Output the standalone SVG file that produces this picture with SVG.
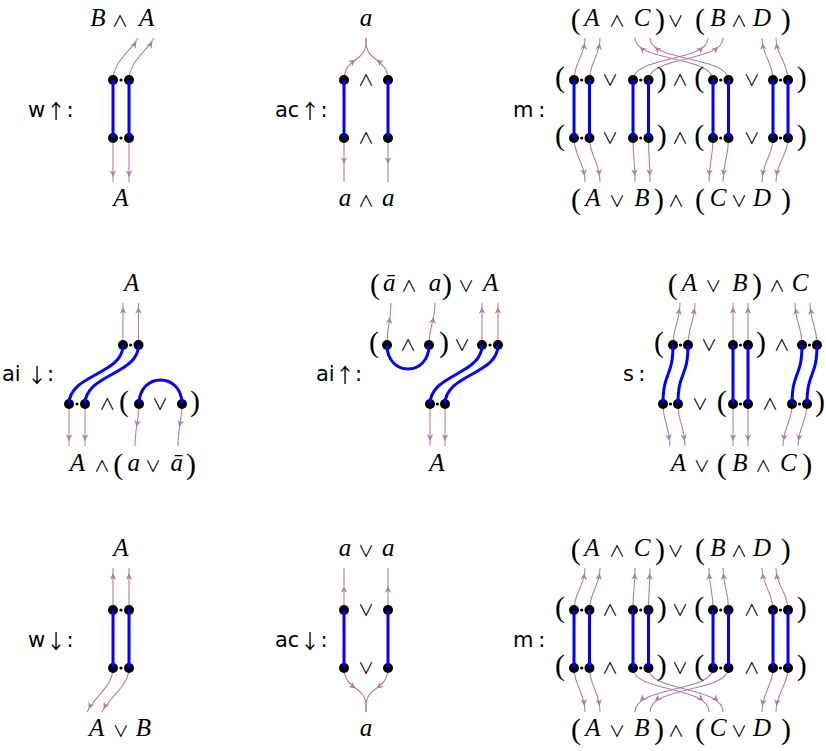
<svg xmlns="http://www.w3.org/2000/svg" xmlns:xlink="http://www.w3.org/1999/xlink" width="826" height="751" viewBox="0 0 826 751">
<style>
.m{font-family:"Liberation Serif","DejaVu Serif",serif;font-style:italic;font-size:25px;text-anchor:middle;fill:#000}
.o{font-family:"Noto Sans CJK JP","DejaVu Sans",sans-serif;font-size:16px;text-anchor:middle;fill:#000}
.p{font-family:"Liberation Serif","DejaVu Serif",serif;font-size:30px;text-anchor:middle;fill:#000}
.s{font-family:"DejaVu Sans",sans-serif;font-size:21px;fill:#000}
.c{font-family:"DejaVu Sans",sans-serif;font-size:21px;text-anchor:middle;fill:#000}
.ar{font-family:"Noto Sans CJK JP","DejaVu Sans",sans-serif;font-size:20px;text-anchor:middle;fill:#000}
.w{fill:none;stroke:#b27ea6;stroke-width:1.1}
.b{fill:none;stroke:#0000ff;stroke-width:3}
.d circle{fill:#000}
</style>
<defs>
<path id="ah" d="M0,0 L-6.8,-3.3 L-4.8,0 L-6.8,3.3 Z" fill="#b27ea6"/>
</defs>

<g id="wires">
<path class="w" d="M113,80 C113,62 130,52 138,38"/>
<path class="w" d="M129,80 C129,62 146,52 154,38"/>
<path class="w" d="M113,138 V182"/>
<path class="w" d="M129,138 V182"/>
<use href="#ah" transform="translate(136.5,41.5) rotate(-58)"/>
<use href="#ah" transform="translate(152.5,41.5) rotate(-58)"/>
<use href="#ah" transform="translate(113,177) rotate(90)"/>
<use href="#ah" transform="translate(129,177) rotate(90)"/>
<path class="w" d="M344,80 C344,58 366,62 366,42 L366,38"/>
<path class="w" d="M388,80 C388,58 366,62 366,42 L366,38"/>
<path class="w" d="M344,138 V182"/>
<path class="w" d="M388,138 V182"/>
<use href="#ah" transform="translate(355.5,59.5) rotate(-38)"/>
<use href="#ah" transform="translate(376.5,59.5) rotate(-142)"/>
<use href="#ah" transform="translate(344,164) rotate(90)"/>
<use href="#ah" transform="translate(388,164) rotate(90)"/>
<path class="w" d="M574,80 C574,62 585,56 585,38"/>
<path class="w" d="M589.5,80 C589.5,62 600,56 600,38"/>
<path class="w" d="M633,80 C633,56 708,62 708,38"/>
<path class="w" d="M648.5,80 C648.5,56 723,62 723,38"/>
<path class="w" d="M713,80 C713,56 635,62 635,38"/>
<path class="w" d="M728.5,80 C728.5,56 650,62 650,38"/>
<path class="w" d="M773,80 C773,62 762,56 762,38"/>
<path class="w" d="M788,80 C788,62 776,56 776,38"/>
<use href="#ah" transform="translate(584.6,43) rotate(-82)"/>
<use href="#ah" transform="translate(599.6,43) rotate(-82)"/>
<use href="#ah" transform="translate(703.4,47) rotate(-40)"/>
<use href="#ah" transform="translate(718.4,47) rotate(-40)"/>
<use href="#ah" transform="translate(639.7,47) rotate(-140)"/>
<use href="#ah" transform="translate(654.8,47) rotate(-140)"/>
<use href="#ah" transform="translate(762.4,43) rotate(-98)"/>
<use href="#ah" transform="translate(776.4,43) rotate(-98)"/>
<path class="w" d="M574,138 C574,156 585,162 585,182"/>
<path class="w" d="M589.5,138 C589.5,156 600,162 600,182"/>
<path class="w" d="M633,138 C633,160 635,160 635,182"/>
<path class="w" d="M648.5,138 C648.5,160 650,160 650,182"/>
<path class="w" d="M713,138 C713,160 709,160 709,182"/>
<path class="w" d="M728.5,138 C728.5,160 723,160 723,182"/>
<path class="w" d="M773,138 C773,156 762,162 762,182"/>
<path class="w" d="M788,138 C788,156 776,162 776,182"/>
<use href="#ah" transform="translate(584.6,176) rotate(82)"/>
<use href="#ah" transform="translate(599.6,176) rotate(82)"/>
<use href="#ah" transform="translate(634.8,176) rotate(88)"/>
<use href="#ah" transform="translate(649.8,176) rotate(88)"/>
<use href="#ah" transform="translate(709.2,176) rotate(93)"/>
<use href="#ah" transform="translate(723.5,176) rotate(95)"/>
<use href="#ah" transform="translate(762.4,176) rotate(98)"/>
<use href="#ah" transform="translate(776.4,176) rotate(98)"/>
<path class="w" d="M123,345 V303"/>
<path class="w" d="M138.5,345 V303"/>
<path class="w" d="M69,404 V446"/>
<path class="w" d="M85,404 V446"/>
<path class="w" d="M139,404 C139,420 135,428 135,446"/>
<path class="w" d="M182,404 C182,420 178,428 178,446"/>
<use href="#ah" transform="translate(123,307) rotate(-90)"/>
<use href="#ah" transform="translate(138.5,307) rotate(-90)"/>
<use href="#ah" transform="translate(69,441) rotate(90)"/>
<use href="#ah" transform="translate(85,441) rotate(90)"/>
<use href="#ah" transform="translate(136.5,427) rotate(100)"/>
<use href="#ah" transform="translate(179.5,427) rotate(100)"/>
<path class="w" d="M387,345 C387,325 391,322 391,303"/>
<path class="w" d="M429,345 C429,325 435,322 435,303"/>
<path class="w" d="M482,345 V303"/>
<path class="w" d="M498,345 V303"/>
<path class="w" d="M430,404 V446"/>
<path class="w" d="M445,404 V446"/>
<use href="#ah" transform="translate(390.1,317) rotate(-80)"/>
<use href="#ah" transform="translate(433.7,317) rotate(-78)"/>
<use href="#ah" transform="translate(482,307) rotate(-90)"/>
<use href="#ah" transform="translate(498,307) rotate(-90)"/>
<use href="#ah" transform="translate(430,441) rotate(90)"/>
<use href="#ah" transform="translate(445,441) rotate(90)"/>
<path class="w" d="M673,345 C673,327 680,321 680,303"/>
<path class="w" d="M688,345 C688,327 695,321 695,303"/>
<path class="w" d="M733,345 V303"/>
<path class="w" d="M748,345 V303"/>
<path class="w" d="M802,345 C802,327 795,321 795,303"/>
<path class="w" d="M817,345 C817,327 810,321 810,303"/>
<use href="#ah" transform="translate(679.5,308) rotate(-82)"/>
<use href="#ah" transform="translate(694.5,308) rotate(-82)"/>
<use href="#ah" transform="translate(733,307) rotate(-90)"/>
<use href="#ah" transform="translate(748,307) rotate(-90)"/>
<use href="#ah" transform="translate(795.5,308) rotate(-98)"/>
<use href="#ah" transform="translate(810.5,308) rotate(-98)"/>
<path class="w" d="M663,404 C663,422 670,428 670,446"/>
<path class="w" d="M678,404 C678,422 685,428 685,446"/>
<path class="w" d="M733,404 V446"/>
<path class="w" d="M748,404 V446"/>
<path class="w" d="M792,404 C792,422 783,428 783,446"/>
<path class="w" d="M807,404 C807,422 798,428 798,446"/>
<use href="#ah" transform="translate(669.5,441) rotate(82)"/>
<use href="#ah" transform="translate(684.5,441) rotate(82)"/>
<use href="#ah" transform="translate(733,441) rotate(90)"/>
<use href="#ah" transform="translate(748,441) rotate(90)"/>
<use href="#ah" transform="translate(783.5,441) rotate(98)"/>
<use href="#ah" transform="translate(798.5,441) rotate(98)"/>
<path class="w" d="M113,610 V568"/>
<path class="w" d="M129,610 V568"/>
<path class="w" d="M113,668 C113,686 95,696 87,712"/>
<path class="w" d="M129,668 C129,686 110,696 102,712"/>
<use href="#ah" transform="translate(113,573) rotate(-90)"/>
<use href="#ah" transform="translate(129,573) rotate(-90)"/>
<use href="#ah" transform="translate(88.5,709) rotate(117)"/>
<use href="#ah" transform="translate(103.5,709) rotate(117)"/>
<path class="w" d="M344,610 V568"/>
<path class="w" d="M388,610 V568"/>
<path class="w" d="M344,668 C344,690 366,686 366,706 L366,712"/>
<path class="w" d="M388,668 C388,690 366,686 366,706 L366,712"/>
<use href="#ah" transform="translate(344,586) rotate(-90)"/>
<use href="#ah" transform="translate(388,586) rotate(-90)"/>
<use href="#ah" transform="translate(355.5,688.5) rotate(38)"/>
<use href="#ah" transform="translate(376.5,688.5) rotate(142)"/>
<path class="w" d="M574,610 C574,592 585,586 585,568"/>
<path class="w" d="M589.5,610 C589.5,592 600,586 600,568"/>
<path class="w" d="M633,610 C633,588 635,588 635,568"/>
<path class="w" d="M648.5,610 C648.5,588 650,588 650,568"/>
<path class="w" d="M713,610 C713,588 709,588 709,568"/>
<path class="w" d="M728.5,610 C728.5,588 723,588 723,568"/>
<path class="w" d="M773,610 C773,592 762,586 762,568"/>
<path class="w" d="M788,610 C788,592 776,586 776,568"/>
<use href="#ah" transform="translate(584.6,573) rotate(-82)"/>
<use href="#ah" transform="translate(599.6,573) rotate(-82)"/>
<use href="#ah" transform="translate(634.8,573) rotate(-88)"/>
<use href="#ah" transform="translate(649.8,573) rotate(-88)"/>
<use href="#ah" transform="translate(709.2,573) rotate(-93)"/>
<use href="#ah" transform="translate(723.5,573) rotate(-95)"/>
<use href="#ah" transform="translate(762.4,573) rotate(-98)"/>
<use href="#ah" transform="translate(776.4,573) rotate(-98)"/>
<path class="w" d="M574,668 C574,686 585,692 585,712"/>
<path class="w" d="M589.5,668 C589.5,686 600,692 600,712"/>
<path class="w" d="M633,668 C633,692 709,686 709,712"/>
<path class="w" d="M648.5,668 C648.5,692 723,686 723,712"/>
<path class="w" d="M713,668 C713,692 635,686 635,712"/>
<path class="w" d="M728.5,668 C728.5,692 650,686 650,712"/>
<path class="w" d="M773,668 C773,686 762,692 762,712"/>
<path class="w" d="M788,668 C788,686 776,692 776,712"/>
<use href="#ah" transform="translate(584.6,706) rotate(82)"/>
<use href="#ah" transform="translate(599.6,706) rotate(82)"/>
<use href="#ah" transform="translate(703.4,701) rotate(40)"/>
<use href="#ah" transform="translate(718.4,701) rotate(40)"/>
<use href="#ah" transform="translate(639.7,701) rotate(140)"/>
<use href="#ah" transform="translate(654.8,701) rotate(140)"/>
<use href="#ah" transform="translate(762.4,706) rotate(98)"/>
<use href="#ah" transform="translate(776.4,706) rotate(98)"/>
</g>

<g id="w-up">
<text class="s" x="28" y="117">w</text><text class="ar" x="56" y="119">↑</text><text class="c" x="70" y="117">:</text>
<text class="m" x="98" y="26">B</text><text class="o" x="120" y="27">∧</text><text class="m" x="146.7" y="26">A</text>
<text class="m" x="121" y="206">A</text>
<g class="d"><circle cx="113" cy="80" r="5"/><circle cx="121" cy="80" r="1.6"/><circle cx="129" cy="80" r="5"/>
<circle cx="113" cy="138" r="5"/><circle cx="121" cy="138" r="1.6"/><circle cx="129" cy="138" r="5"/></g>
</g>

<g id="ac-up">
<text class="s" x="275" y="117">ac</text><text class="ar" x="310" y="119">↑</text><text class="c" x="324" y="117">:</text>
<text class="m" x="366" y="26">a</text>
<text class="m" x="345" y="206">a</text><text class="o" x="366" y="207">∧</text><text class="m" x="388.3" y="206">a</text>
<text class="o" x="366" y="86">∧</text><text class="o" x="366" y="144">∧</text>
<g class="d"><circle cx="344" cy="80" r="5"/><circle cx="388" cy="80" r="5"/><circle cx="344" cy="138" r="5"/><circle cx="388" cy="138" r="5"/></g>
</g>

<g id="m-up">
<text class="s" x="513" y="117">m</text><text class="c" x="541.7" y="117">:</text>
<text class="p" x="575.7" y="29">(</text><text class="m" x="592" y="26">A</text><text class="o" x="617" y="27">∧</text><text class="m" x="642" y="26">C</text><text class="p" x="660" y="29">)</text><text class="o" x="675.5" y="27">∨</text><text class="p" x="700" y="29">(</text><text class="m" x="718" y="26">B</text><text class="o" x="739" y="27">∧</text><text class="m" x="762" y="26">D</text><text class="p" x="785.7" y="29">)</text>
<text class="p" x="576" y="209">(</text><text class="m" x="593" y="206">A</text><text class="o" x="617" y="207">∨</text><text class="m" x="642" y="206">B</text><text class="p" x="659" y="209">)</text><text class="o" x="676" y="207">∧</text><text class="p" x="700" y="209">(</text><text class="m" x="718" y="206">C</text><text class="o" x="739" y="207">∨</text><text class="m" x="762" y="206">D</text><text class="p" x="786" y="209">)</text>
<text class="p" x="560" y="87">(</text><text class="o" x="610" y="86">∨</text><text class="p" x="661.7" y="87">)</text><text class="o" x="680" y="86">∧</text><text class="p" x="699.3" y="87">(</text><text class="o" x="751.7" y="86">∨</text><text class="p" x="801.7" y="87">)</text>
<text class="p" x="560" y="145">(</text><text class="o" x="610" y="144">∨</text><text class="p" x="661.7" y="145">)</text><text class="o" x="680" y="144">∧</text><text class="p" x="699.3" y="145">(</text><text class="o" x="751.7" y="144">∨</text><text class="p" x="801.7" y="145">)</text>
<g class="d">
<circle cx="574" cy="80" r="5"/><circle cx="581.7" cy="80" r="1.6"/><circle cx="589.5" cy="80" r="5"/>
<circle cx="633" cy="80" r="5"/><circle cx="640.7" cy="80" r="1.6"/><circle cx="648.5" cy="80" r="5"/>
<circle cx="713" cy="80" r="5"/><circle cx="720.7" cy="80" r="1.6"/><circle cx="728.5" cy="80" r="5"/>
<circle cx="773" cy="80" r="5"/><circle cx="780.5" cy="80" r="1.6"/><circle cx="788" cy="80" r="5"/>
<circle cx="574" cy="138" r="5"/><circle cx="581.7" cy="138" r="1.6"/><circle cx="589.5" cy="138" r="5"/>
<circle cx="633" cy="138" r="5"/><circle cx="640.7" cy="138" r="1.6"/><circle cx="648.5" cy="138" r="5"/>
<circle cx="713" cy="138" r="5"/><circle cx="720.7" cy="138" r="1.6"/><circle cx="728.5" cy="138" r="5"/>
<circle cx="773" cy="138" r="5"/><circle cx="780.5" cy="138" r="1.6"/><circle cx="788" cy="138" r="5"/>
</g>
</g>

<g id="ai-down">
<text class="s" x="2" y="381">ai</text><text class="ar" x="37" y="383">↓</text><text class="c" x="50.5" y="381">:</text>
<text class="m" x="131.7" y="291">A</text>
<text class="m" x="77.3" y="471">A</text><text class="o" x="102" y="472">∧</text><text class="p" x="118.3" y="474">(</text><text class="m" x="133.7" y="471">a</text><text class="o" x="153" y="472">∨</text><text class="m" x="176.7" y="471">ā</text><text class="p" x="191" y="474">)</text>
<text class="o" x="107.3" y="410">∧</text><text class="p" x="124" y="411">(</text><text class="o" x="160" y="410">∨</text><text class="p" x="195" y="411">)</text>
<g class="d">
<circle cx="123" cy="345" r="5"/><circle cx="130.7" cy="345" r="1.6"/><circle cx="138.5" cy="345" r="5"/>
<circle cx="69" cy="404" r="5"/><circle cx="77" cy="404" r="1.6"/><circle cx="85" cy="404" r="5"/>
<circle cx="139" cy="404" r="5"/><circle cx="182" cy="404" r="5"/>
</g>
</g>

<g id="ai-up">
<text class="s" x="316" y="381">ai</text><text class="ar" x="345" y="383">↑</text><text class="c" x="358.5" y="381">:</text>
<text class="p" x="375" y="294">(</text><text class="m" x="389.3" y="291">ā</text><text class="o" x="409" y="292">∧</text><text class="m" x="435" y="291">a</text><text class="p" x="447" y="294">)</text><text class="o" x="466" y="292">∨</text><text class="m" x="490.7" y="291">A</text>
<text class="p" x="374" y="352">(</text><text class="o" x="408" y="351">∧</text><text class="p" x="444" y="352">)</text><text class="o" x="462" y="351">∨</text>
<text class="m" x="437" y="471">A</text>
<g class="d">
<circle cx="387" cy="345" r="5"/><circle cx="429" cy="345" r="5"/>
<circle cx="482" cy="345" r="5"/><circle cx="490" cy="345" r="1.6"/><circle cx="498" cy="345" r="5"/>
<circle cx="430" cy="404" r="5"/><circle cx="437.5" cy="404" r="1.6"/><circle cx="445" cy="404" r="5"/>
</g>
</g>

<g id="s">
<text class="s" x="623" y="381">s</text><text class="c" x="641.7" y="381">:</text>
<text class="p" x="672.7" y="294">(</text><text class="m" x="689.3" y="291">A</text><text class="o" x="713.3" y="292">∨</text><text class="m" x="740" y="291">B</text><text class="p" x="757" y="294">)</text><text class="o" x="777" y="292">∧</text><text class="m" x="800" y="291">C</text>
<text class="p" x="659" y="352">(</text><text class="o" x="709" y="351">∨</text><text class="p" x="761" y="352">)</text><text class="o" x="781.7" y="351">∧</text>
<text class="o" x="700" y="410">∨</text><text class="p" x="721.7" y="411">(</text><text class="o" x="770" y="410">∧</text><text class="p" x="820" y="411">)</text>
<text class="m" x="678.3" y="471">A</text><text class="o" x="701.7" y="472">∨</text><text class="p" x="721.7" y="474">(</text><text class="m" x="740" y="471">B</text><text class="o" x="763.3" y="472">∧</text><text class="m" x="788.3" y="471">C</text><text class="p" x="807.3" y="474">)</text>
<g class="d">
<circle cx="673" cy="345" r="5"/><circle cx="680.5" cy="345" r="1.6"/><circle cx="688" cy="345" r="5"/>
<circle cx="733" cy="345" r="5"/><circle cx="740.5" cy="345" r="1.6"/><circle cx="748" cy="345" r="5"/>
<circle cx="802" cy="345" r="5"/><circle cx="809.5" cy="345" r="1.6"/><circle cx="817" cy="345" r="5"/>
<circle cx="663" cy="404" r="5"/><circle cx="670.5" cy="404" r="1.6"/><circle cx="678" cy="404" r="5"/>
<circle cx="733" cy="404" r="5"/><circle cx="740.5" cy="404" r="1.6"/><circle cx="748" cy="404" r="5"/>
<circle cx="792" cy="404" r="5"/><circle cx="799.5" cy="404" r="1.6"/><circle cx="807" cy="404" r="5"/>
</g>
</g>

<g id="w-down">
<text class="s" x="28" y="647">w</text><text class="ar" x="56" y="649">↓</text><text class="c" x="70" y="647">:</text>
<text class="m" x="121" y="556">A</text>
<text class="m" x="96.7" y="736">A</text><text class="o" x="120.7" y="737">∨</text><text class="m" x="143.3" y="736">B</text>
<g class="d"><circle cx="113" cy="610" r="5"/><circle cx="121" cy="610" r="1.6"/><circle cx="129" cy="610" r="5"/>
<circle cx="113" cy="668" r="5"/><circle cx="121" cy="668" r="1.6"/><circle cx="129" cy="668" r="5"/></g>
</g>

<g id="ac-down">
<text class="s" x="275" y="647">ac</text><text class="ar" x="310" y="649">↓</text><text class="c" x="324" y="647">:</text>
<text class="m" x="345" y="556">a</text><text class="o" x="366" y="557">∨</text><text class="m" x="388.3" y="556">a</text>
<text class="m" x="366" y="736">a</text>
<text class="o" x="366" y="616">∨</text><text class="o" x="366" y="674">∨</text>
<g class="d"><circle cx="344" cy="610" r="5"/><circle cx="388" cy="610" r="5"/><circle cx="344" cy="668" r="5"/><circle cx="388" cy="668" r="5"/></g>
</g>

<g id="m-down">
<text class="s" x="513" y="647">m</text><text class="c" x="541.7" y="647">:</text>
<text class="p" x="575.7" y="559">(</text><text class="m" x="592" y="556">A</text><text class="o" x="617" y="557">∧</text><text class="m" x="642" y="556">C</text><text class="p" x="660" y="559">)</text><text class="o" x="675.5" y="557">∨</text><text class="p" x="700" y="559">(</text><text class="m" x="718" y="556">B</text><text class="o" x="739" y="557">∧</text><text class="m" x="762" y="556">D</text><text class="p" x="785.7" y="559">)</text>
<text class="p" x="576" y="739">(</text><text class="m" x="593" y="736">A</text><text class="o" x="617" y="737">∨</text><text class="m" x="642" y="736">B</text><text class="p" x="659" y="739">)</text><text class="o" x="676" y="737">∧</text><text class="p" x="700" y="739">(</text><text class="m" x="718" y="736">C</text><text class="o" x="739" y="737">∨</text><text class="m" x="762" y="736">D</text><text class="p" x="786" y="739">)</text>
<text class="p" x="560" y="617">(</text><text class="o" x="610" y="616">∧</text><text class="p" x="661.7" y="617">)</text><text class="o" x="680" y="616">∨</text><text class="p" x="699.3" y="617">(</text><text class="o" x="751.7" y="616">∧</text><text class="p" x="801.7" y="617">)</text>
<text class="p" x="560" y="675">(</text><text class="o" x="610" y="674">∧</text><text class="p" x="661.7" y="675">)</text><text class="o" x="680" y="674">∨</text><text class="p" x="699.3" y="675">(</text><text class="o" x="751.7" y="674">∧</text><text class="p" x="801.7" y="675">)</text>
<g class="d">
<circle cx="574" cy="610" r="5"/><circle cx="581.7" cy="610" r="1.6"/><circle cx="589.5" cy="610" r="5"/>
<circle cx="633" cy="610" r="5"/><circle cx="640.7" cy="610" r="1.6"/><circle cx="648.5" cy="610" r="5"/>
<circle cx="713" cy="610" r="5"/><circle cx="720.7" cy="610" r="1.6"/><circle cx="728.5" cy="610" r="5"/>
<circle cx="773" cy="610" r="5"/><circle cx="780.5" cy="610" r="1.6"/><circle cx="788" cy="610" r="5"/>
<circle cx="574" cy="668" r="5"/><circle cx="581.7" cy="668" r="1.6"/><circle cx="589.5" cy="668" r="5"/>
<circle cx="633" cy="668" r="5"/><circle cx="640.7" cy="668" r="1.6"/><circle cx="648.5" cy="668" r="5"/>
<circle cx="713" cy="668" r="5"/><circle cx="720.7" cy="668" r="1.6"/><circle cx="728.5" cy="668" r="5"/>
<circle cx="773" cy="668" r="5"/><circle cx="780.5" cy="668" r="1.6"/><circle cx="788" cy="668" r="5"/>
</g>
</g>

<g id="links">
<path class="b" d="M113,80 V138 M129,80 V138"/>
<path class="b" d="M344,80 V138 M388,80 V138"/>
<path class="b" d="M574,80 V138 M589.5,80 V138 M633,80 V138 M648.5,80 V138 M713,80 V138 M728.5,80 V138 M773,80 V138 M788,80 V138"/>
<path class="b" d="M123,345 C123,375 69,374 69,404"/>
<path class="b" d="M138.5,345 C138.5,375 85,374 85,404"/>
<path class="b" d="M139,404 C139,372 182,372 182,404"/>
<path class="b" d="M387,345 C387,377 429,377 429,345"/>
<path class="b" d="M482,345 C482,375 430,374 430,404"/>
<path class="b" d="M498,345 C498,375 445,374 445,404"/>
<path class="b" d="M673,345 C673,378 663,371 663,404"/>
<path class="b" d="M688,345 C688,378 678,371 678,404"/>
<path class="b" d="M733,345 V404 M748,345 V404"/>
<path class="b" d="M802,345 C802,378 792,371 792,404"/>
<path class="b" d="M817,345 C817,378 807,371 807,404"/>
<path class="b" d="M113,610 V668 M129,610 V668"/>
<path class="b" d="M344,610 V668 M388,610 V668"/>
<path class="b" d="M574,610 V668 M589.5,610 V668 M633,610 V668 M648.5,610 V668 M713,610 V668 M728.5,610 V668 M773,610 V668 M788,610 V668"/>
</g>
</svg>
